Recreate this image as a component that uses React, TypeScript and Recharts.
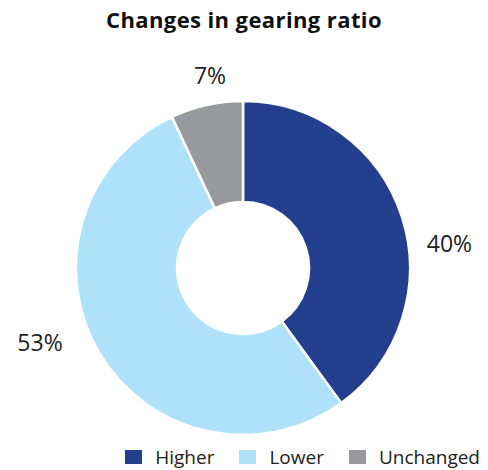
import { PieChart, Pie, Cell, Legend } from 'recharts'

const categories = ['Higher', 'Lower', 'Unchanged']
const shares = [40, 53, 7]
const colors = ['#253f8f', '#afe1fa', '#98999c']

// label placement around the ring (deg, radius) — reference doesn't sit exactly on mid-angle
const labelAngles = [7, -160, 99.7]
const labelRadii = [208, 216, 196]

const data = categories.map((name, i) => ({ name, value: shares[i] }))

const RADIAN = Math.PI / 180

function renderLabel(props: any) {
  const { cx, cy, index, value } = props
  const a = labelAngles[index] * RADIAN
  const r = labelRadii[index]
  const x = cx + r * Math.cos(a)
  const y = cy - r * Math.sin(a)
  return (
    <text
      x={x}
      y={y}
      textAnchor="middle"
      dominantBaseline="central"
      fontSize={23}
      fill="#222"
      fontFamily="'Open Sans', sans-serif"
    >
      {value}%
    </text>
  )
}

function LegendContent() {
  return (
    <div style={{ display: 'flex', justifyContent: 'flex-end', alignItems: 'center', fontFamily: "'Open Sans', sans-serif", fontSize: 19, color: '#222' }}>
      {categories.map((c, i) => (
        <div key={c} style={{ display: 'flex', alignItems: 'center', marginLeft: i === 0 ? 0 : 25 }}>
          <span style={{ display: 'inline-block', width: 17, height: 14, background: colors[i], marginRight: 13 }} />
          <span>{c}</span>
        </div>
      ))}
    </div>
  )
}

export default function App() {
  return (
    <div style={{ position: 'absolute', left: 0, top: 0, width: 488, height: 470, background: '#fff' }}>
      <div
        style={{
          position: 'absolute',
          top: 4,
          width: 488,
          textAlign: 'center',
          fontFamily: "'Open Sans', sans-serif",
          fontWeight: 700,
          fontSize: 22,
          letterSpacing: 0.4,
          color: '#111',
        }}
      >
        Changes in gearing ratio
      </div>
      <PieChart width={488} height={470} margin={{ top: 0, right: 0, bottom: 0, left: 0 }}>
        <Pie
          data={data}
          dataKey="value"
          nameKey="name"
          cx={243}
          cy={268}
          innerRadius={66}
          outerRadius={167}
          startAngle={90}
          endAngle={-270}
          stroke="#fff"
          strokeWidth={2.5}
          label={renderLabel}
          labelLine={false}
          isAnimationActive={false}
        >
          {data.map((d, i) => (
            <Cell key={d.name} fill={colors[i]} />
          ))}
        </Pie>
        <Legend
          content={<LegendContent />}
          wrapperStyle={{ position: 'absolute', top: 444, left: 0, right: 8, width: 'auto' }}
        />
      </PieChart>
    </div>
  )
}
